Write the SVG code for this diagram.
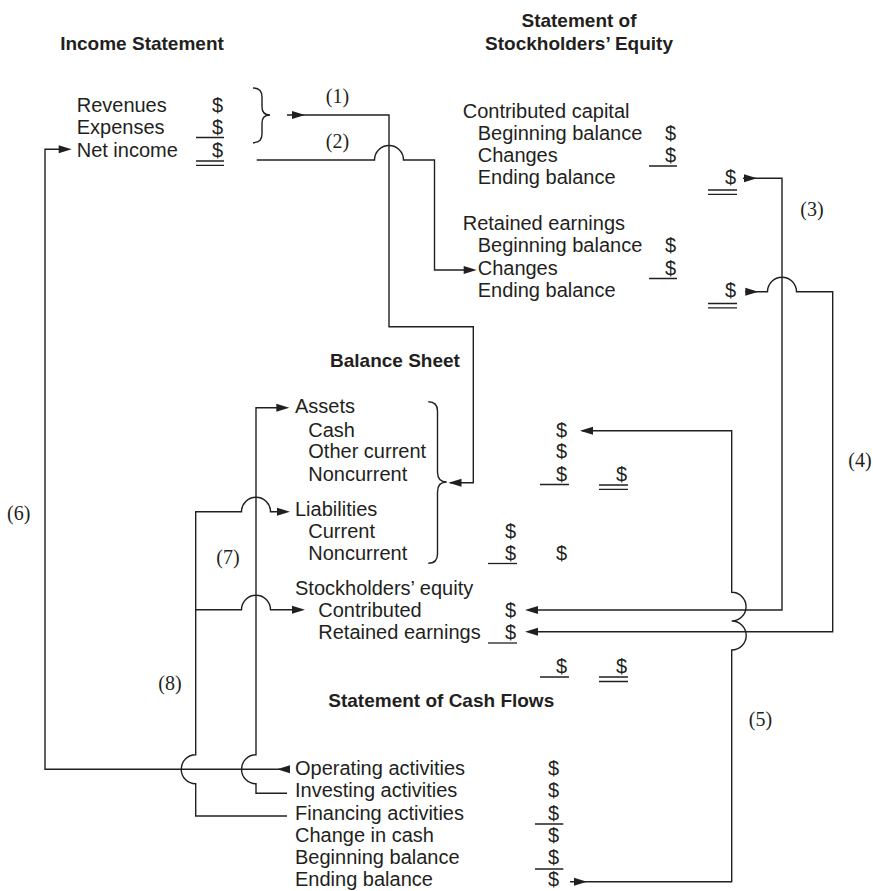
<svg xmlns="http://www.w3.org/2000/svg" width="873" height="891" viewBox="0 0 873 891">
<style>
text{font-family:"Liberation Sans",Arial,sans-serif;font-size:20px;fill:#231f20}
.h{font-weight:bold;font-size:19px}
.m{text-anchor:middle}
.n{font-family:"Liberation Serif","Times New Roman",serif;font-size:20px;text-anchor:middle}
.r{text-anchor:end}
.ln{fill:none;stroke:#231f20;stroke-width:1.4}
.ul{fill:none;stroke:#231f20;stroke-width:1.3}
.ah{fill:#231f20}
</style>
<defs><path id="ah" d="M0,0 L-13,-4 L-13,4 Z"/></defs>
<rect width="873" height="891" fill="#fff"/>

<g id="income-statement">
<text class="h m" x="142" y="50">Income Statement</text>
<text x="76.7" y="111.7">Revenues</text><text class="r" x="223" y="111.7">$</text>
<text x="76.7" y="134">Expenses</text><text class="r" x="223" y="134">$</text>
<text x="76.7" y="156.7">Net income</text><text class="r" x="223" y="156.7">$</text>
<path class="ul" d="M196 137.5H224M196 161H224M196 165.3H224"/>
<path class="ln" d="M253 88Q262 88 262 97V107Q262 115 270 115Q262 115 262 123V134Q262 142.7 253 142.7"/>
</g>

<g id="stockholders-equity">
<text class="h m" x="579" y="26.7">Statement of</text>
<text class="h m" x="579" y="50">Stockholders’ Equity</text>
<text x="462.7" y="118.3">Contributed capital</text>
<text x="477.7" y="140">Beginning balance</text><text class="r" x="676" y="140">$</text>
<text x="477.7" y="161.7">Changes</text><text class="r" x="676" y="161.7">$</text>
<text x="477.7" y="184">Ending balance</text><text class="r" x="736" y="184">$</text>
<path class="ul" d="M649 166H677M708 190H737M708 194.3H737"/>
<text x="462.7" y="230">Retained earnings</text>
<text x="477.7" y="252">Beginning balance</text><text class="r" x="676" y="252">$</text>
<text x="477.7" y="274.5">Changes</text><text class="r" x="676" y="274.5">$</text>
<text x="477.7" y="297">Ending balance</text><text class="r" x="736" y="297">$</text>
<path class="ul" d="M649 278.5H677M708 303.5H737M708 307.8H737"/>
</g>

<g id="balance-sheet">
<text class="h" x="330" y="366.5">Balance Sheet</text>
<text x="295" y="413.3">Assets</text>
<text x="308.3" y="436.7">Cash</text><text class="r" x="567" y="436.7">$</text>
<text x="308.3" y="458.3">Other current</text><text class="r" x="567" y="458.3">$</text>
<text x="308.3" y="481">Noncurrent</text><text class="r" x="567" y="481">$</text><text class="r" x="627" y="481">$</text>
<path class="ul" d="M540 484.5H569M599 485H628M599 489.3H628"/>
<path class="ln" d="M428.3 401.7Q437.5 401.7 437.5 411V472Q437.5 482 446.7 482Q437.5 482 437.5 492V554Q437.5 563.3 428.3 563.3"/>
<text x="295" y="516">Liabilities</text>
<text x="308.3" y="538.3">Current</text><text class="r" x="516" y="538.3">$</text>
<text x="308.3" y="560">Noncurrent</text><text class="r" x="516" y="560">$</text><text class="r" x="567" y="560">$</text>
<path class="ul" d="M488 563.5H517"/>
<text x="295" y="595">Stockholders’ equity</text>
<text x="318.3" y="616.7">Contributed</text><text class="r" x="516" y="616.7">$</text>
<text x="318.3" y="638.5">Retained earnings</text><text class="r" x="516" y="638.5">$</text>
<path class="ul" d="M488 643H517"/>
<text class="r" x="567" y="673.3">$</text><text class="r" x="627" y="673.3">$</text>
<path class="ul" d="M540 677H569M599 677H628M599 681.5H628"/>
</g>

<g id="cash-flows">
<text class="h" x="328.3" y="706.7">Statement of Cash Flows</text>
<text x="295" y="775">Operating activities</text><text class="r" x="559" y="775">$</text>
<text x="295" y="797">Investing activities</text><text class="r" x="559" y="797">$</text>
<text x="295" y="819.5">Financing activities</text><text class="r" x="559" y="819.5">$</text>
<text x="295" y="841.7">Change in cash</text><text class="r" x="559" y="841.7">$</text>
<text x="295" y="864">Beginning balance</text><text class="r" x="559" y="864">$</text>
<text x="295" y="886">Ending balance</text><text class="r" x="559" y="886">$</text>
<path class="ul" d="M535 824H563.3M535 869H563.3"/>
</g>

<g id="connectors">
<path class="ln" d="M287 115H389V326.7H473.3V482.7H450"/>
<path class="ln" d="M256.7 160H374.5A14.5 14.5 0 0 1 403.5 160H434.5V270H465"/>
<path class="ln" d="M743 178.3H782V610H530"/>
<path class="ln" d="M745 291.7H767.5A14.5 14.5 0 0 1 796.5 291.7H832.7V631.7H530"/>
<path class="ln" d="M582 430.7H731.7V592.3A14.35 14.35 0 0 1 731.7 621A14.5 14.5 0 0 1 731.7 650V881.7H570"/>
<path class="ln" d="M280 769.3H45V149.3H62"/>
<path class="ln" d="M280 407.7H256V754.8A14.5 14.5 0 0 0 256 783.8V793.3H287"/>
<path class="ln" d="M280 511.7H270.5A14.5 14.5 0 0 0 241.5 511.7H195.7V754.8A14.5 14.5 0 0 0 195.7 783.8V816H287"/>
<path class="ln" d="M195.7 609.7H241.5A14.5 14.5 0 0 1 270.5 609.7H295"/>
<g class="ah">
<use href="#ah" transform="translate(305,115)"/>
<use href="#ah" transform="translate(448.5,482.7) rotate(180)"/>
<use href="#ah" transform="translate(476.7,270)"/>
<use href="#ah" transform="translate(757,178.3)"/>
<use href="#ah" transform="translate(525,610) rotate(180)"/>
<use href="#ah" transform="translate(758.3,291.7)"/>
<use href="#ah" transform="translate(525,631.7) rotate(180)"/>
<use href="#ah" transform="translate(580,430.7) rotate(180)"/>
<use href="#ah" transform="translate(587,881.7)"/>
<use href="#ah" transform="translate(71.7,149.3)"/>
<use href="#ah" transform="translate(277,769.3) rotate(180)"/>
<use href="#ah" transform="translate(289.3,407.7)"/>
<use href="#ah" transform="translate(290,511.7)"/>
<use href="#ah" transform="translate(305,609.7)"/>
</g>
<text class="n" x="337.5" y="103">(1)</text>
<text class="n" x="337.5" y="148">(2)</text>
<text class="n" x="812" y="215.5">(3)</text>
<text class="n" x="860" y="466.5">(4)</text>
<text class="n" x="760.5" y="725.5">(5)</text>
<text class="n" x="18.7" y="520">(6)</text>
<text class="n" x="228" y="563.5">(7)</text>
<text class="n" x="170" y="690">(8)</text>
</g>
</svg>
